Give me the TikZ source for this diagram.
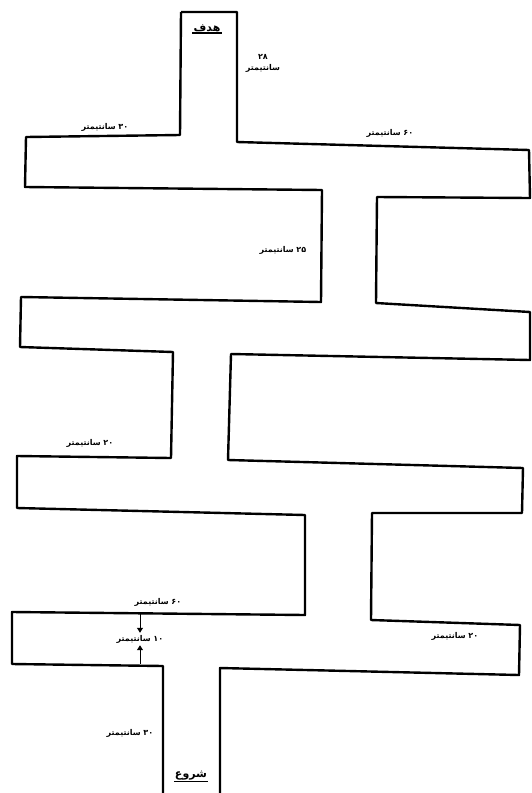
\documentclass[tikz,border=0pt]{standalone}
\usepackage{fontspec}
\usetikzlibrary{arrows.meta, positioning}
\newfontfamily\farsi[Script=Arabic]{DejaVu Sans}
\TeXXeTstate=1
\newcommand{\fa}[1]{\farsi\bfseries\beginR #1\endR}

\begin{document}
\begin{tikzpicture}[x=1pt, y=-1pt,
        wall/.style = {draw=black, line width=2.4pt, line join=round},
        cmlabel/.style = {font=\fontsize{8}{9}\selectfont, inner sep=1pt},
        title/.style = {font=\fontsize{11}{12}\selectfont, inner sep=1pt},
        tick/.style = {-{Triangle[length=5pt, width=6pt]}, line width=1pt, shorten >=1pt}
    ]
    \useasboundingbox (0,0) rectangle (532,793);

    % the corridor from start to goal
    \draw[wall] (181,12) -- (237,12) -- (237,142) -- (529,150) -- (530,198)
        -- (377,197) -- (376,303) -- (530,312) -- (530,360)
        -- (231,354) -- (228,460) -- (523,468) -- (522,513)
        -- (372,513) -- (371,620) -- (520,625) -- (519,675)
        -- (220,668) -- (220,793)
        (163,793) -- (163,666) -- (12,664) -- (12,612)
        -- (305,615) -- (305,515) -- (17,508) -- (17,456)
        -- (171,458) -- (173,352) -- (20,347) -- (21,297)
        -- (321,302) -- (322,190) -- (25,187) -- (26,137)
        -- (180,135) -- (181,12);

    % goal and start
    \node[title] (goal) at (207,28) {\fa{هدف}};
    \draw[line width=1.4pt] (goal.south west) -- (goal.south east);
    \node[title] (start) at (191,776) {\fa{شروع}};
    \draw[line width=1.4pt] (start.south west) -- (start.south east);

    % lengths
    \node[cmlabel] (goalnum) at (263,57) {\fa{۲۸}};
    \node[cmlabel, below=2pt of goalnum] (goalcm) {\fa{سانتیمتر}};
    \node[cmlabel] (topleft) at (105,127) {\fa{۳۰ سانتیمتر}};
    \node[cmlabel] (topright) at (390,133) {\fa{۶۰ سانتیمتر}};
    \node[cmlabel] (midright) at (283,250) {\fa{۲۵ سانتیمتر}};
    \node[cmlabel] (midleft) at (90,443) {\fa{۲۰ سانتیمتر}};
    \node[cmlabel] (lowleft) at (158,602) {\fa{۶۰ سانتیمتر}};
    \node[cmlabel] (lowright) at (455,636) {\fa{۲۰ سانتیمتر}};
    \node[cmlabel] (startlen) at (130,733) {\fa{۳۰ سانتیمتر}};

    % width of the lowest corridor
    \node[cmlabel] (width) at (140,639) {\fa{۱۰ سانتیمتر}};
    \coordinate (wtop) at (140,614);
    \coordinate (wbot) at (140,664);
    \draw[tick] (wtop) -- (width.north);
    \draw[tick] (wbot) -- (width.south);
\end{tikzpicture}
\end{document}
